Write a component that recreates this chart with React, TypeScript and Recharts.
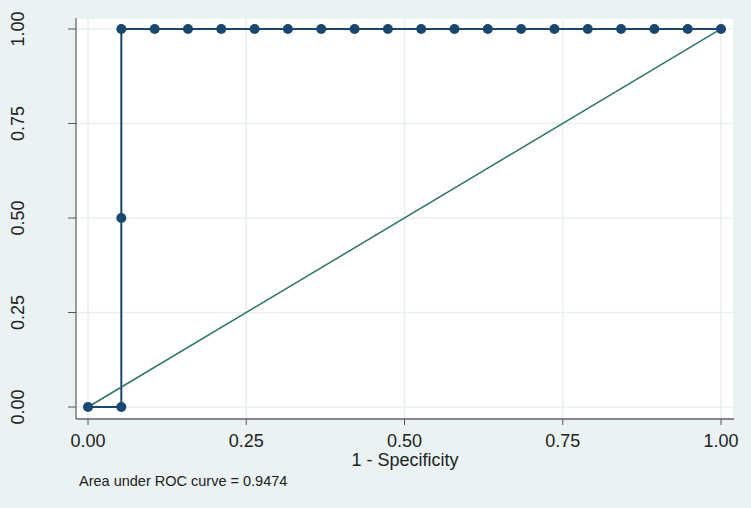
import React from 'react';
import { ComposedChart, Line, XAxis, YAxis, CartesianGrid, Customized } from 'recharts';

const fpr = [0, 0.0526, 0.0526, 0.0526, 0.1053, 0.1579, 0.2105, 0.2632, 0.3158, 0.3684, 0.4211, 0.4737, 0.5263, 0.5789, 0.6316, 0.6842, 0.7368, 0.7895, 0.8421, 0.8947, 0.9474, 1.0];
const tpr = [0, 0, 0.5, 1, 1, 1, 1, 1, 1, 1, 1, 1, 1, 1, 1, 1, 1, 1, 1, 1, 1, 1];
const refX = [0, 1];
const refY = [0, 1];
const ticks = [0, 0.25, 0.5, 0.75, 1];
const tickLabels = ['0.00', '0.25', '0.50', '0.75', '1.00'];
const xLabel = '1 - Specificity';
const aucNote = 'Area under ROC curve = 0.9474';

const rocData = fpr.map((x, i) => ({ x, y: tpr[i] }));
const refData = refX.map((x, i) => ({ x, y: refY[i] }));

const FONT = '"Liberation Sans", Arial, sans-serif';
const NAVY = '#1a476f';
const GREEN = '#2d7466';

const fmt = (v: number) => tickLabels[ticks.indexOf(v)] ?? v.toFixed(2);

const YTick = (props: any) => {
  const { y, payload } = props;
  const bx = 24;
  return (
    <text
      x={bx}
      y={y}
      transform={`rotate(-90, ${bx}, ${y})`}
      textAnchor="middle"
      fontFamily={FONT}
      fontSize={18}
      fill="#222"
    >
      {fmt(payload.value)}
    </text>
  );
};

const XLabelText = () => (
  <text x={405} y={465.5} textAnchor="middle" fontFamily={FONT} fontSize={18} fill="#222">
    {xLabel}
  </text>
);

const AucText = () => (
  <text x={79} y={485.5} fontFamily={FONT} fontSize={14.5} fill="#222">
    {aucNote}
  </text>
);

export default function App() {
  return (
    <div style={{ position: 'absolute', left: 0, top: 0, width: 751, height: 508, background: '#EAF2F3' }}>
      <ComposedChart
        width={751}
        height={508}
        margin={{ top: 18, right: 17, bottom: 39, left: 16 }}
      >
        <CartesianGrid fill="#ffffff" stroke="#e8eff1" strokeWidth={1.5} />
        <XAxis
          dataKey="x"
          type="number"
          domain={[-0.019, 1.0205]}
          ticks={ticks}
          tickFormatter={fmt}
          height={50}
          tickSize={6}
          tickMargin={9}
          allowDataOverflow
          axisLine={{ stroke: '#222', strokeWidth: 1 }}
          tickLine={{ stroke: '#555' }}
          tick={{ fontFamily: FONT, fontSize: 18, fill: '#222' }}
        />
        <YAxis
          dataKey="y"
          type="number"
          domain={[-0.0317, 1.029]}
          ticks={ticks}
          width={60}
          tickSize={8}
          allowDataOverflow
          axisLine={{ stroke: '#444', strokeWidth: 1 }}
          tickLine={{ stroke: '#555' }}
          tick={<YTick />}
        />
        <Line
          data={rocData}
          dataKey="y"
          type="linear"
          stroke={NAVY}
          strokeWidth={2}
          dot={{ r: 5, fill: NAVY, stroke: NAVY, strokeWidth: 0 }}
          isAnimationActive={false}
        />
        <Line
          data={refData}
          dataKey="y"
          type="linear"
          stroke={GREEN}
          strokeWidth={1.5}
          dot={false}
          isAnimationActive={false}
        />
        <Customized component={XLabelText} />
        <Customized component={AucText} />
      </ComposedChart>
    </div>
  );
}
